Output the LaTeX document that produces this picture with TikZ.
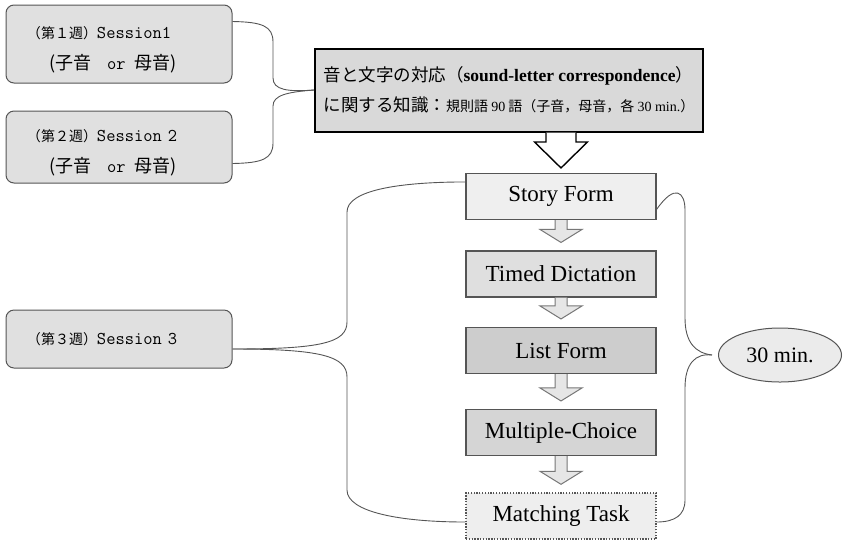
\documentclass[tikz,border=0pt]{standalone}
\usepackage{fontspec}
\setmainfont{Liberation Serif}
\newfontfamily\jp{Noto Sans CJK JP}
\usetikzlibrary{calc,shapes.geometric}
\definecolor{linec}{HTML}{555555}
\definecolor{sessc}{HTML}{E0E0E0}
\definecolor{topc}{HTML}{D9D9D9}
\definecolor{sfc}{HTML}{EFEFEF}
\definecolor{tdc}{HTML}{DFDFDF}
\definecolor{lfc}{HTML}{CDCDCD}
\definecolor{mcc}{HTML}{D5D5D5}
\definecolor{mtc}{HTML}{EEEEEE}
\definecolor{ellc}{HTML}{EBEBEB}
\definecolor{arrc}{HTML}{E6E6E6}
\tikzset{
  sbox/.style={draw=linec,line width=1pt,fill=sessc,rounded corners=8pt,minimum width=226pt,text width=184pt,inner xsep=21pt,align=left,font=\fontsize{18}{31}\selectfont},
  topbox/.style={draw=black,line width=2pt,fill=topc,minimum width=388pt,minimum height=83pt,inner xsep=8pt,align=left,font=\fontsize{17.5}{30}\selectfont},
  task/.style={draw=linec,line width=1.1pt,minimum width=190pt,minimum height=46pt,inner sep=0pt,font=\fontsize{23}{26}\selectfont},
  tdash/.style={task,dash pattern=on 1.3pt off 1.5pt,line width=1.4pt},
  timebox/.style={ellipse,draw=linec,line width=1pt,fill=ellc,minimum width=123pt,minimum height=54pt,inner sep=0pt,font=\fontsize{22}{24}\selectfont},
  brace/.style={draw=linec,line width=0.9pt},
  bigarr/.style={draw=black,line width=1.4pt,fill=white,line join=miter},
  smallarr/.style={draw=linec!80,line width=1pt,fill=arrc,line join=miter},
}
% hollow down arrow: [opts]{from}{to}{shaft half}{head half}{head length}{gap}
\newcommand{\downarr}[7][]{%
  \draw[#1] let \p1=(#2.south), \p2=(#3.north) in
    ({\x2-#4pt},\y1) -- ({\x2-#4pt},{\y2+#7pt+#6pt}) -- ({\x2-#5pt},{\y2+#7pt+#6pt})
    -- (\x2,{\y2+#7pt}) -- ({\x2+#5pt},{\y2+#7pt+#6pt}) -- ({\x2+#4pt},{\y2+#7pt+#6pt})
    -- ({\x2+#4pt},\y1);}
\newcommand{\wk}[1]{{\jp\fontsize{14}{15}\selectfont（第#1週）}}

\begin{document}
\begin{tikzpicture}[x=1pt,y=-1pt]
  \useasboundingbox (0,0) rectangle (853,542);
  % sessions
  \node[sbox,minimum height=78pt] (S1) at (119,44) {\rule{0pt}{24pt}\wk{１}{\ttfamily Session1}\\\hspace*{22pt}{\jp(子音}\hspace{16pt}{\ttfamily or}\hspace{9pt}{\jp 母音)}};
  \node[sbox,minimum height=72pt] (S2) at (119,147) {\rule{0pt}{24pt}\wk{２}{\ttfamily Session 2}\\\hspace*{22pt}{\jp(子音}\hspace{16pt}{\ttfamily or}\hspace{9pt}{\jp 母音)}};
  \node[sbox,minimum height=58pt] (S3) at (119,339) {\wk{３}{\ttfamily Session 3}};
  % knowledge box
  \node[topbox] (M) at (509,90) {{\jp 音と文字の対応（}{\bfseries sound-letter correspondence}{\jp ）}\\{\jp に関する知識：\fontsize{14}{15}\selectfont 規則語 {\rmfamily 90} 語（子音，母音，各 {\rmfamily 30 min.}）}};
  % tasks
  \node[task,fill=sfc] (SF) at (561,196.5) {Story Form};
  \node[task,fill=tdc] (TD) at (561,274) {Timed Dictation};
  \node[task,fill=lfc] (LF) at (561,350.5) {List Form};
  \node[task,fill=mcc] (MC) at (561,432.5) {Multiple-Choice};
  \node[tdash,fill=mtc] (MT) at (561,516) {Matching Task};
  \node[timebox] (E) at (780,355) {30 min.};
  \coordinate (tip) at ([xshift=-6pt]E.west);
  % arrows
  \downarr[bigarr,xshift=-9pt]{M}{SF}{15}{26.5}{26}{5}
  \downarr[smallarr]{SF}{TD}{6}{21}{13}{8}
  \downarr[smallarr]{TD}{LF}{6}{21}{13}{8}
  \downarr[smallarr]{LF}{MC}{6}{21}{13}{8}
  \downarr[smallarr]{MC}{MT}{6}{21}{13}{8}
  % braces
  \draw[brace] ([yshift=-17pt]S1.north east) .. controls (262,22) and (273,26) .. (273,42) -- (273,78) .. controls (273,90) and (288,92) .. (M.west);
  \draw[brace] ([yshift=20pt]S2.south east) .. controls (262,163) and (273,159) .. (273,143) -- (273,106) .. controls (273,95) and (288,92) .. (M.west);
  \draw[brace] ([yshift=-10pt]S3.east) .. controls (320,349) and (347,343) .. (347,322) -- (347,212) .. controls (347,190) and (400,182) .. ([yshift=-9pt]SF.north west);
  \draw[brace] ([yshift=-10pt]S3.east) .. controls (320,349) and (347,356) .. (347,377) -- (347,490) .. controls (347,512) and (400,522) .. ([yshift=-6pt]MT.west);
  \draw[brace] ([yshift=-13pt]SF.east) .. controls (675,183) and (685,192) .. (685,210) -- (685,318) .. controls (685,342) and (695,353) .. (tip);
  \draw[brace] (tip) .. controls (695,353) and (685,364) .. (685,388) -- (685,500) .. controls (685,515) and (675,522) .. ([yshift=-6pt]MT.east);
\end{tikzpicture}
\end{document}
